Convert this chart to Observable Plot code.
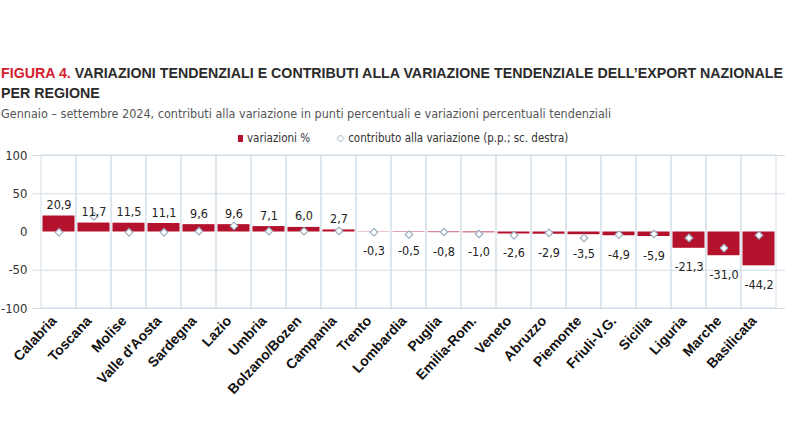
<!DOCTYPE html>
<html>
<head>
<meta charset="utf-8">
<script src="https://cdn.jsdelivr.net/npm/d3@7"></script>
<script src="https://cdn.jsdelivr.net/npm/@observablehq/plot@0.6"></script>
<style>
  html, body { margin: 0; padding: 0; background: #fff; width: 795px; height: 448px; overflow: hidden; position: relative; }
  .narrow { font-family: "Liberation Sans Narrow", "DejaVu Sans Condensed", "Liberation Sans", sans-serif; }
  #title { position: absolute; left: 1px; top: 63px; font-family: "Liberation Sans", Arial, sans-serif; font-size: 15px; font-weight: bold; color: #2b2b2b; line-height: 20px; white-space: nowrap; transform-origin: 0 0; }
  #title .fig { color: #d3202f; }
  #subtitle { position: absolute; left: 1px; top: 106px; font-size: 12.5px; color: #555; white-space: nowrap; }
  #legend { position: absolute; left: 238px; top: 131px; font-size: 11.5px; color: #333; white-space: nowrap; display: flex; align-items: center; }
  #legend .sq { display: inline-block; width: 5px; height: 7px; background: #b3112c; margin-right: 4px; }
  #legend .item2 { margin-left: 26px; display: inline-flex; align-items: center; }
  #chart { position: absolute; left: 0; top: 145px; }
</style>
</head>
<body>
<div id="title"><span id="t1"><span class="fig">FIGURA 4.</span> VARIAZIONI TENDENZIALI E CONTRIBUTI ALLA VARIAZIONE TENDENZIALE DELL’EXPORT NAZIONALE</span><br>PER REGIONE</div>
<div id="subtitle" class="narrow">Gennaio – settembre 2024, contributi alla variazione in punti percentuali e variazioni percentuali tendenziali</div>
<div id="legend" class="narrow"><span class="sq"></span>variazioni %<span class="item2"><svg width="9" height="9" style="margin-right:3px"><path d="M4.5 1 L8 4.5 L4.5 8 L1 4.5 Z" fill="#fff" stroke="#9aaec0" stroke-width="1"/></svg>contributo alla variazione (p.p.; sc. destra)</span></div>
<div id="chart"></div>
<script>
// Categories
const regioni = ["Calabria", "Toscana", "Molise", "Valle d'Aosta", "Sardegna", "Lazio", "Umbria", "Bolzano/Bozen", "Campania", "Trento", "Lombardia", "Puglia", "Emilia-Rom.", "Veneto", "Abruzzo", "Piemonte", "Friuli-V.G.", "Sicilia", "Liguria", "Marche", "Basilicata"];
// Variazioni % (left axis)
const variazioni = [20.9, 11.7, 11.5, 11.1, 9.6, 9.6, 7.1, 6.0, 2.7, -0.3, -0.5, -0.8, -1.0, -2.6, -2.9, -3.5, -4.9, -5.9, -21.3, -31.0, -44.2];
// Contributo alla variazione, p.p. (right axis, not shown)
const contributi = [-0.02, 1.02, -0.02, -0.02, 0.05, 0.40, 0.05, 0.05, 0.07, -0.02, -0.17, 0.0, -0.13, -0.22, -0.06, -0.39, -0.17, -0.13, -0.39, -1.05, -0.22];
// Left axis ticks
const yTicks = [-100, -50, 0, 50, 100];
// Ratio of left axis (±100) to right axis (±5)
const scalaDestra = 100 / 5;

// Compress title horizontally (condensed face in the original)
const t1 = document.getElementById("t1");
const tw = t1.getBoundingClientRect().width;
document.getElementById("title").style.transform = `scaleX(${782 / tw})`;

const data = regioni.map((r, i) => ({regione: r, variazione: variazioni[i], contributo: contributi[i] * scalaDestra}));
const fmt = v => v.toFixed(1).replace(".", ",");
const font = '"Liberation Sans Narrow", "DejaVu Sans Condensed", "Liberation Sans", sans-serif';
const grid = "#d3dde7";

const chart = Plot.plot({
  width: 795,
  height: 263,
  marginTop: 10,
  marginBottom: 100,
  marginLeft: 32,
  marginRight: 10,
  style: {fontFamily: font, background: "transparent"},
  x: {domain: regioni, padding: 0, label: null},
  y: {domain: [-100, 100], label: null},
  marks: [
    Plot.gridY(yTicks.filter(t => t !== 0), {stroke: grid, strokeOpacity: 1}),
    Plot.barY(data, {x: "regione", y1: -100, y2: 100, fill: "none", stroke: grid, strokeWidth: 1, inset: 0}),
    Plot.barY(data, {x: "regione", y: "variazione", fill: "#b3112c", insetLeft: 1.5, insetRight: 1.5}),
    Plot.dot(data, {x: "regione", y: "contributo", symbol: "diamond2", r: 3.4, fill: "#fff", stroke: "#9aaec0", strokeWidth: 1.2}),
    Plot.text(data.filter(d => d.variazione >= 0), {x: "regione", y: "variazione", text: d => fmt(d.variazione), dy: -11, fontSize: 12.5, fill: "#222"}),
    Plot.text(data.filter(d => d.variazione < 0), {x: "regione", y: "variazione", text: d => fmt(d.variazione), dy: 19, fontSize: 12.5, fill: "#222"}),
    Plot.axisY({ticks: yTicks, tickSize: 0, tickPadding: 5, fontSize: 13, tickFormat: d => String(d), fill: "#333"}),
    Plot.axisX({tickSize: 0, tickRotate: -47, tickPadding: 10, dx: -5, fontSize: 14, fontWeight: "bold", fill: "#111", fontFamily: '"Liberation Sans", Arial, sans-serif'})
  ]
});
document.getElementById("chart").appendChild(chart);
</script>
</body>
</html>
